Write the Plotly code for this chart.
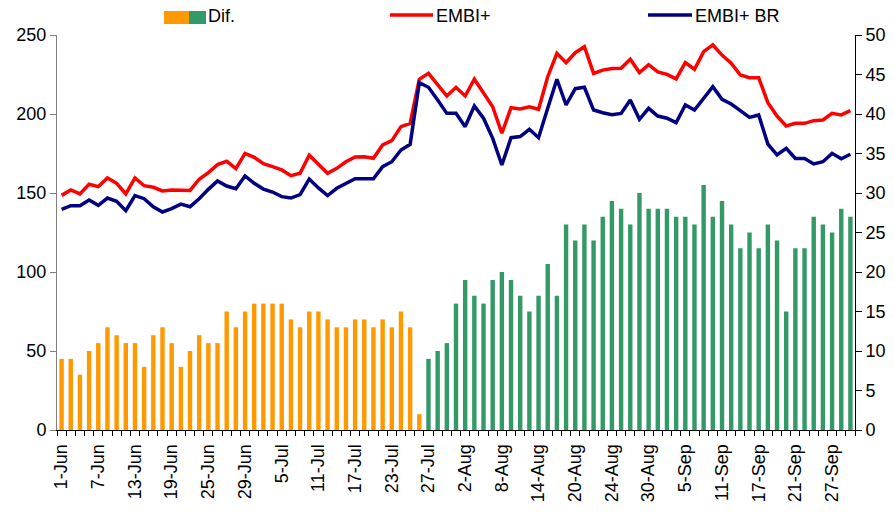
import pandas as pd
import plotly.graph_objects as go

# Business days 1-Jun-2001 .. 1-Oct-2001 (87 categories)
dates = pd.bdate_range("2001-06-01", periods=87)
categories = [f"{d.day}-{d.strftime('%b')}" for d in dates]

embi_plus = [148.5, 151.9, 149.4, 155.5, 154.0, 159.5, 156.1, 149.4, 159.5, 154.6,
             153.6, 151.3, 151.9, 151.9, 151.6, 158.7, 162.9, 168.0, 170.1, 165.4,
             175.1, 172.6, 168.6, 166.7, 164.6, 161.0, 162.5, 173.9, 167.9, 162.5,
             165.6, 169.8, 172.8, 173.0, 172.0, 180.4, 183.1, 192.0, 194.1, 222.0,
             225.7, 218.4, 211.4, 216.9, 211.4, 222.0, 213.5, 204.6, 187.8, 204.0,
             203.2, 204.6, 203.0, 223.6, 238.4, 232.5, 238.8, 242.6, 225.7, 227.8,
             228.8, 228.9, 234.6, 226.2, 231.2, 226.6, 225.1, 222.2, 232.5, 228.3,
             239.5, 243.7, 237.3, 232.1, 224.7, 223.0, 223.0, 207.2, 198.7, 192.4,
             194.1, 194.1, 195.8, 196.2, 200.4, 199.4, 202.1]

embi_br = [139.7, 142.0, 142.0, 145.6, 142.2, 146.8, 144.7, 138.8, 148.3, 146.4,
           141.3, 138.0, 140.1, 143.0, 141.3, 146.4, 152.3, 157.6, 154.4, 152.7,
           160.8, 156.1, 152.5, 150.6, 147.7, 146.8, 149.0, 158.8, 153.2, 148.4,
           153.0, 156.1, 159.0, 159.0, 159.0, 166.7, 169.8, 177.2, 180.8, 219.8,
           216.9, 208.9, 200.4, 200.4, 192.0, 205.1, 197.3, 184.6, 167.7, 185.0,
           185.7, 190.3, 185.0, 203.6, 222.0, 205.7, 216.0, 216.9, 202.5, 200.8,
           199.6, 200.4, 208.9, 196.6, 203.6, 198.7, 197.3, 194.5, 205.7, 202.5,
           209.9, 217.3, 209.3, 206.3, 202.1, 197.9, 199.4, 181.0, 174.1, 178.3,
           171.9, 171.9, 168.4, 169.8, 175.1, 171.7, 174.5]

dif = [9, 9, 7, 10, 11, 13, 12, 11, 11, 8,
       12, 13, 11, 8, 10, 12, 11, 11, 15, 13,
       15, 16, 16, 16, 16, 14, 13, 15, 15, 14,
       13, 13, 14, 14, 13, 14, 13, 15, 13, 2,
       9, 10, 11, 16, 19, 17, 16, 19, 20, 19,
       17, 15, 17, 21, 17, 26, 24, 26, 24, 27,
       29, 28, 26, 30, 28, 28, 28, 27, 27, 26,
       31, 27, 29, 26, 23, 25, 23, 26, 24, 15,
       23, 23, 27, 26, 25, 28, 27]

green_from = "27-Jul"

ORANGE = "#FF9900"
GREEN = "#339966"
RED = "#FF0000"
NAVY = "#000080"
FONT = "Liberation Sans, Arial, sans-serif"
FS = 18

split = categories.index(green_from)
bar_colors = [ORANGE if i < split else GREEN for i in range(len(categories))]
ticktext = [c if i % 4 == 0 else "" for i, c in enumerate(categories)]

fig = go.Figure()
fig.add_trace(go.Bar(x=categories, y=dif, name="Dif.", marker=dict(color=bar_colors, line=dict(width=0)),
                     yaxis="y"))
fig.add_trace(go.Scatter(x=categories, y=embi_plus, name="EMBI+", mode="lines",
                         line=dict(color=RED, width=3.5), yaxis="y2"))
fig.add_trace(go.Scatter(x=categories, y=embi_br, name="EMBI+ BR", mode="lines",
                         line=dict(color=NAVY, width=3.5), yaxis="y2"))

# target plot-area edges in page pixels
L, R, T, B = 57, 855, 35, 430
W, H = 894, 513

def px(x):
    return (x - L) / (R - L)

def py(y):
    return (B - y) / (B - T)

fig.update_layout(
    width=W, height=H,
    margin=dict(l=L, r=W - R, t=T, b=H - B, autoexpand=False),
    paper_bgcolor="white", plot_bgcolor="white",
    showlegend=False, bargap=0.52,
    font=dict(family=FONT, size=FS, color="black"),
    xaxis=dict(type="category", tickmode="array", tickvals=categories, ticktext=ticktext,
               tickson="boundaries", ticks="outside", ticklen=5, tickcolor="black",
               tickangle=-90, showline=True, linecolor="black", linewidth=1,
               showgrid=False, range=[-0.5, len(categories) - 0.5], automargin=False,
               ticklabelstandoff=6, tickfont=dict(size=FS)),
    yaxis=dict(side="right", range=[0, 50], dtick=5, ticks="outside", ticklen=6,
               tickcolor="black", showline=True, linecolor="black", showgrid=False,
               zeroline=False, automargin=False, tickfont=dict(size=FS)),
    yaxis2=dict(side="left", overlaying="y", range=[0, 250], dtick=50, ticks="outside",
                ticklen=6, tickcolor="#808080", showline=True, linecolor="#808080",
                showgrid=False, zeroline=False, automargin=False, tickfont=dict(size=FS)),
)

# Manual legend
shapes = [
    dict(type="rect", xref="paper", yref="paper", x0=px(164), x1=px(189), y0=py(24), y1=py(11),
         fillcolor=ORANGE, line=dict(width=0)),
    dict(type="rect", xref="paper", yref="paper", x0=px(189), x1=px(206), y0=py(24), y1=py(11),
         fillcolor=GREEN, line=dict(width=0)),
    dict(type="line", xref="paper", yref="paper", x0=px(390), x1=px(433), y0=py(15), y1=py(15),
         line=dict(color=RED, width=3.5)),
    dict(type="line", xref="paper", yref="paper", x0=px(648), x1=px(692), y0=py(15), y1=py(15),
         line=dict(color=NAVY, width=3.5)),
]
annotations = [
    dict(text="Dif.", x=px(206), y=py(16), xref="paper", yref="paper", xanchor="left",
         yanchor="middle", showarrow=False, font=dict(size=FS)),
    dict(text="EMBI+", x=px(434), y=py(16), xref="paper", yref="paper", xanchor="left",
         yanchor="middle", showarrow=False, font=dict(size=FS)),
    dict(text="EMBI+ BR", x=px(693), y=py(16), xref="paper", yref="paper", xanchor="left",
         yanchor="middle", showarrow=False, font=dict(size=FS)),
]
fig.update_layout(shapes=shapes, annotations=annotations)

fig.write_html("out.html", config={"displayModeBar": False},
               post_script="document.body.style.margin='0';document.body.style.overflow='hidden';")
